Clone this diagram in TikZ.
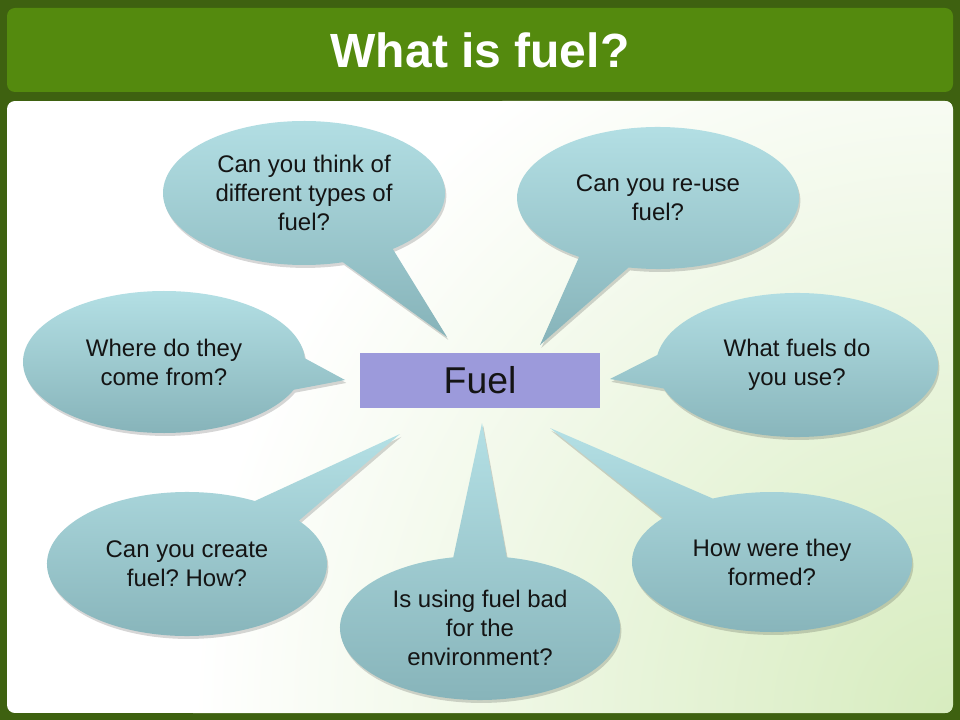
\documentclass[tikz,border=0pt]{standalone}
\usepackage{fontspec}
\setmainfont{Liberation Sans}
\frenchspacing
\definecolor{framegreen}{HTML}{3E6110}
\definecolor{titlegreen}{HTML}{548A0E}
\definecolor{bgg}{HTML}{D7ECBF}
\definecolor{bubtop}{HTML}{B4E0E5}
\definecolor{bubbot}{HTML}{86B3B9}
\definecolor{fuelfill}{HTML}{9C9ADB}
\tikzset{
  titletext/.style={text=white, font=\fontsize{36}{43}\selectfont\bfseries, inner sep=0pt},
  qtext/.style={text=black!92, font=\fontsize{18}{21.75}\selectfont, align=center, inner sep=0pt},
  bubble/.style={top color=bubtop, bottom color=bubbot},
  bshadow/.style={fill=black, opacity=0.16, transform canvas={shift={(1pt,-2.2pt)}}},
  fuelbox/.style={fill=fuelfill, minimum width=180pt, minimum height=41.25pt, inner sep=0pt,
    text=black!92, font=\fontsize{28}{33}\selectfont}
}
% #1 centre, #2 x radius, #3 y radius, #4 first base angle, #5 second base angle, #6 tip
\newcommand{\bubblepath}[6]{([shift={(#4:#2 and #3)}]#1) -- (#6) -- ([shift={(#5:#2 and #3)}]#1) arc[start angle=#5, end angle=#4+360, x radius=#2, y radius=#3] -- cycle}
\newcommand{\speechbubble}[6]{%
  \fill[bshadow] \bubblepath{#1}{#2}{#3}{#4}{#5}{#6};
  \shade[bubble] \bubblepath{#1}{#2}{#3}{#4}{#5}{#6};
}
\begin{document}
\begin{tikzpicture}[x=0.75pt,y=-0.75pt]
\useasboundingbox (0,0) rectangle (960,720);
% frame
\fill[framegreen] (0,0) rectangle (960,720);
\fill[titlegreen, rounded corners=6pt] (7,8) rectangle (953,92);
\node[titletext, anchor=base] (title) at (480,68) {What is fuel?};
% content panel
\begin{scope}
  \clip[rounded corners=6pt] (7,101) rectangle (953,713);
  \fill[white] (7,101) rectangle (953,713);
  \shade[inner color=bgg, outer color=white] (953,713) circle (570pt);
\end{scope}
% centres and tips
\coordinate (c1) at (304,193); \coordinate (t1) at (447,337);
\coordinate (c2) at (658,198); \coordinate (t2) at (540,345);
\coordinate (c3) at (164,362); \coordinate (t3) at (345,380);
\coordinate (c4) at (797,365); \coordinate (t4) at (610,379);
\coordinate (c5) at (187,564); \coordinate (t5) at (400,434);
\coordinate (c6) at (480,628); \coordinate (t6) at (482,423);
\coordinate (c7) at (772,562); \coordinate (t7) at (550,428);
% bubbles
\speechbubble{c1}{105.75pt}{54pt}{-74}{-51}{t1}
\speechbubble{c2}{105.75pt}{53.25pt}{-124}{-102}{t2}
\speechbubble{c3}{105.75pt}{53.25pt}{-23}{3}{t3}
\speechbubble{c4}{105.75pt}{54pt}{172}{199}{t4}
\speechbubble{c5}{105pt}{54pt}{37}{61}{t5}
\speechbubble{c6}{105pt}{54pt}{79}{101}{t6}
\speechbubble{c7}{105pt}{52.5pt}{115}{141}{t7}
% texts
\node[qtext] (q1) at (c1) {Can you think of\\different types of\\fuel?};
\node[qtext] (q2) at (c2) {Can you re-use\\fuel?};
\node[qtext] (q3) at (c3) {Where do they\\come from?};
\node[qtext] (q4) at (c4) {What fuels do\\you use?};
\node[qtext] (q5) at (c5) {Can you create\\fuel? How?};
\node[qtext] (q6) at (c6) {Is using fuel bad\\for the\\environment?};
\node[qtext] (q7) at (c7) {How were they\\formed?};
% centre box
\node[fuelbox] (fuel) at (480,380.5) {Fuel};
\end{tikzpicture}
\end{document}
